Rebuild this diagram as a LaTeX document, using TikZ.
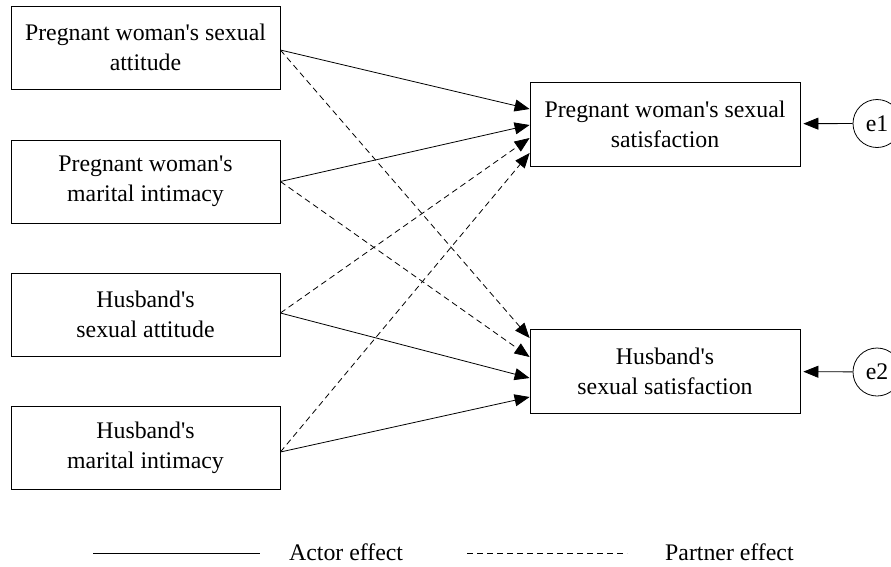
\documentclass[tikz,border=0pt]{standalone}
\usepackage{fontspec}
\setmainfont{Liberation Serif}[Ligatures=TeXOff]
\usetikzlibrary{arrows.meta}
\begin{document}
\begin{tikzpicture}[x=1pt,y=-1pt,
  txt/.style={font=\fontsize{23.8}{30}\selectfont},
  lbox/.style={draw,line width=0.8pt,minimum width=269pt,minimum height=83pt,align=center,inner sep=0pt,txt},
  err/.style={draw,circle,line width=0.8pt,minimum size=48pt,inner sep=0pt,txt},
  tip/.style={-{Triangle[length=15pt,width=12pt]}},
  actor/.style={tip,line width=0.8pt},
  partner/.style={tip,line width=0.8pt,dash pattern=on 6pt off 4pt}]
\useasboundingbox (0,0) rectangle (891,566);
\node[lbox] (b1) at (145.5,47.5) {Pregnant woman's sexual\\attitude};
\node[lbox] (b2) at (145.5,181.5) {Pregnant woman's\\marital intimacy};
\node[lbox] (b3) at (145.5,314.5) {Husband's\\sexual attitude};
\node[lbox] (b4) at (145.5,447.5) {Husband's\\marital intimacy};
\node[lbox,minimum width=270pt,minimum height=84pt] (r1) at (665,124) {Pregnant woman's sexual\\satisfaction};
\node[lbox,minimum width=270pt,minimum height=84pt] (r2) at (665,371) {Husband's\\sexual satisfaction};
\node[err] (e1) at (877,123.5) {e1};
\node[err] (e2) at (877,372) {e2};
% actor effects
\draw[actor] ([yshift=-2.5pt]b1.east) -- ([yshift=15pt]r1.west);
\draw[actor] (b2.east) -- ([yshift=-1pt]r1.west);
\draw[actor] ([yshift=1.5pt]b3.east) -- ([yshift=-7pt]r2.west);
\draw[actor] ([yshift=-4.5pt]b4.east) -- ([yshift=-26pt]r2.west);
% partner effects
\draw[partner] ([yshift=-2.5pt]b1.east) -- ([yshift=33pt]r2.west);
\draw[partner] (b2.east) -- ([yshift=14pt]r2.west);
\draw[partner] ([yshift=1.5pt]b3.east) -- ([yshift=-14pt]r1.west);
\draw[partner] ([yshift=-4.5pt]b4.east) -- ([yshift=-29pt]r1.west);
% errors
\draw[actor,shorten >=3pt] (e1) -- (r1);
\draw[actor,shorten >=3pt] (e2) -- (r2);
% legend
\coordinate (la1) at (93,553);
\coordinate (la2) at (260,553);
\coordinate (lp1) at (467,553);
\coordinate (lp2) at (627,553);
\draw[line width=0.8pt] (la1) -- (la2);
\draw[line width=0.8pt,dash pattern=on 6pt off 4pt] (lp1) -- (lp2);
\node[txt,anchor=west,inner sep=0pt] (lta) at (289,552) {Actor effect};
\node[txt,anchor=west,inner sep=0pt] (ltp) at (665,552) {Partner effect};
\end{tikzpicture}
\end{document}
